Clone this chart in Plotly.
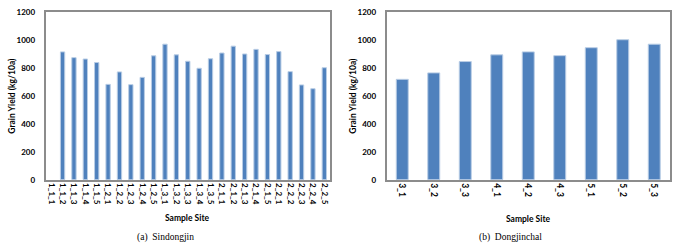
import plotly.graph_objects as go

# ---- data ----
sites_a = ["1_1_1", "1_1_2", "1_1_3", "1_1_4", "1_1_5",
           "1_2_1", "1_2_2", "1_2_3", "1_2_4", "1_2_5",
           "1_3_1", "1_3_2", "1_3_3", "1_3_4", "1_3_5",
           "2_1_1", "2_1_2", "2_1_3", "2_1_4", "2_1_5",
           "2_2_1", "2_2_2", "2_2_3", "2_2_4", "2_2_5"]
yield_a = [None, 913, 872, 862, 837, 681, 770, 679, 731, 885,
           968, 892, 846, 796, 864, 905, 954, 898, 931, 894,
           915, 772, 677, 650, 800]

sites_b = ["3_1", "3_2", "3_3", "4_1", "4_2", "4_3", "5_1", "5_2", "5_3"]
yield_b = [717, 763, 844, 892, 913, 886, 943, 1000, 968]

y_ticks = [0, 200, 400, 600, 800, 1000, 1200]

W, H = 685, 249
BAR = "#4F81BD"
EDGE = "#B9CDE5"
FONT = "Lato"

fig = go.Figure()
fig.add_trace(go.Bar(x=sites_a, y=yield_a, xaxis="x", yaxis="y",
                     marker=dict(color=BAR, line=dict(color=EDGE, width=1)),
                     showlegend=False))
fig.add_trace(go.Bar(x=sites_b, y=yield_b, xaxis="x2", yaxis="y2",
                     marker=dict(color=BAR, line=dict(color=EDGE, width=1)),
                     showlegend=False))

def px(x):
    return x / W

def py(y):
    return (H - y) / H

ydom = [py(182), py(7)]
axis_common = dict(showline=True, linecolor="#8C8C8C", linewidth=1.5, mirror=True,
                   showgrid=False, zeroline=False, ticks="",
                   tickfont=dict(family=FONT, size=8, color="#000", weight="bold"))

fig.update_layout(
    width=W, height=H,
    margin=dict(l=0, r=0, t=0, b=0),
    paper_bgcolor="white", plot_bgcolor="white",
    bargap=0.62,
    xaxis=dict(domain=[px(45.5), px(330)], anchor="y", type="category",
               tickangle=90, **axis_common),
    yaxis=dict(domain=ydom, anchor="x", range=[0, 1200], tickvals=y_ticks,
               ticklabelstandoff=7, **axis_common),
    xaxis2=dict(domain=[px(386.5), px(670)], anchor="y2", type="category",
                tickangle=90, **axis_common),
    yaxis2=dict(domain=ydom, anchor="x2", range=[0, 1200], tickvals=y_ticks,
                ticklabelstandoff=7, **axis_common),
)
fig.layout.xaxis2.tickfont.size = 8.5

ann_font = dict(family=FONT, size=8.5, color="#000", weight="bold")
cap_font = dict(family="Liberation Serif", size=9.5, color="#000")
anns = [
    dict(x=px(12), y=py(94.5), text="Grain Yield (kg/10a)", textangle=-90, font=ann_font),
    dict(x=px(353), y=py(94.5), text="Grain Yield (kg/10a)", textangle=-90, font=ann_font),
    dict(x=px(187.5), y=py(222), text="Sample Site", font=ann_font),
    dict(x=px(528), y=py(222.5), text="Sample Site", font=ann_font),
    dict(x=px(165), y=py(242.5), text="(a)  Sindongjin", font=cap_font),
    dict(x=px(510), y=py(242.5), text="(b)  Dongjinchal", font=cap_font),
]
for a in anns:
    fig.add_annotation(xref="paper", yref="paper", showarrow=False,
                       xanchor="center", yanchor="middle", **a)

fig.write_html("out.html")
